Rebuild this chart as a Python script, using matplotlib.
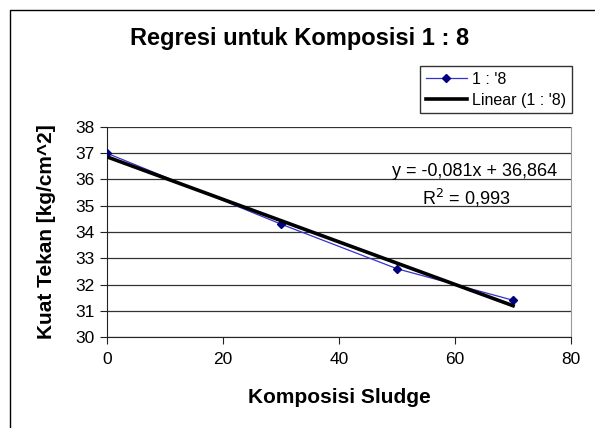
import numpy as np
import matplotlib
matplotlib.use("Agg")
import matplotlib.pyplot as plt
from matplotlib.lines import Line2D

# data
komposisi = [0, 30, 50, 70]
kuat_tekan = [37.0, 34.3, 32.6, 31.4]
x_ticks = [0, 20, 40, 60, 80]
y_ticks = [30, 31, 32, 33, 34, 35, 36, 37, 38]

plt.rcParams['font.family'] = ['Liberation Sans', 'DejaVu Sans']

fig = plt.figure(figsize=(5.95, 4.28), dpi=100)
ax = fig.add_axes([0.1798, 0.2126, 0.78, 0.4907])

# regresi linier
slope, intercept = np.polyfit(komposisi, kuat_tekan, 1)
pred = np.polyval([slope, intercept], komposisi)
r2 = 1 - np.sum((np.array(kuat_tekan) - pred) ** 2) / np.sum((np.array(kuat_tekan) - np.mean(kuat_tekan)) ** 2)

ax.plot(komposisi, kuat_tekan, color='#3333cc', lw=0.9, marker='D', ms=4.5,
        mfc='#000080', mec='#000080', zorder=3)
xs = np.array([min(komposisi), max(komposisi)])
ax.plot(xs, slope * xs + intercept, color='black', lw=2.6, zorder=4)

ax.set_xlim(0, 80)
ax.set_ylim(30, 38)
ax.set_xticks(x_ticks)
ax.set_yticks(y_ticks)
ax.tick_params(labelsize=12.5, length=5, color='#222222', pad=4)
ax.tick_params(axis='x', pad=6)
ax.grid(axis='y', color='#333333', lw=0.9)
ax.spines['top'].set_visible(False)
ax.spines['right'].set_color('#999999')
ax.spines['left'].set_color('#222222')
ax.spines['bottom'].set_color('#222222')

ax.set_xlabel('Komposisi Sludge', fontsize=15, fontweight='bold', labelpad=15)
ax.set_ylabel('Kuat Tekan [kg/cm^2]', fontsize=15, fontweight='bold', labelpad=14)

fig.text(300 / 595, 1 - 39 / 428, 'Regresi untuk Komposisi 1 : 8', ha='center', va='center',
         fontsize=17, fontweight='bold')

eq = f"y = {slope:.3f}x + {intercept:.3f}".replace('.', ',')
ax.text(0.97, 0.79, eq, transform=ax.transAxes, ha='right', va='center', fontsize=13)
ax.text(0.774, 0.66, f"R$^2$ = {r2:.3f}".replace('.', ','), transform=ax.transAxes,
        ha='center', va='center', fontsize=13)

# legend
handles = [Line2D([], [], color='#3333cc', lw=0.9, marker='D', ms=4.5, mfc='#000080', mec='#000080'),
           Line2D([], [], color='black', lw=2.6)]
leg = fig.legend(handles, ["1 : '8", "Linear (1 : '8)"], loc='upper left',
                 bbox_to_anchor=(0.706, 0.846), fontsize=11.5, frameon=True, fancybox=False,
                 handlelength=2.6, handletextpad=0.3, borderpad=0.35, labelspacing=0.4,
                 borderaxespad=0)
leg.get_frame().set_edgecolor('black')
leg.get_frame().set_linewidth(1.0)

# bingkai luar
fig.add_artist(Line2D([10 / 595, 10 / 595, 1.0], [0.0, 1 - 10 / 428, 1 - 10 / 428],
                      transform=fig.transFigure, color='black', lw=1.0))

fig.savefig('out.png', dpi=100)
